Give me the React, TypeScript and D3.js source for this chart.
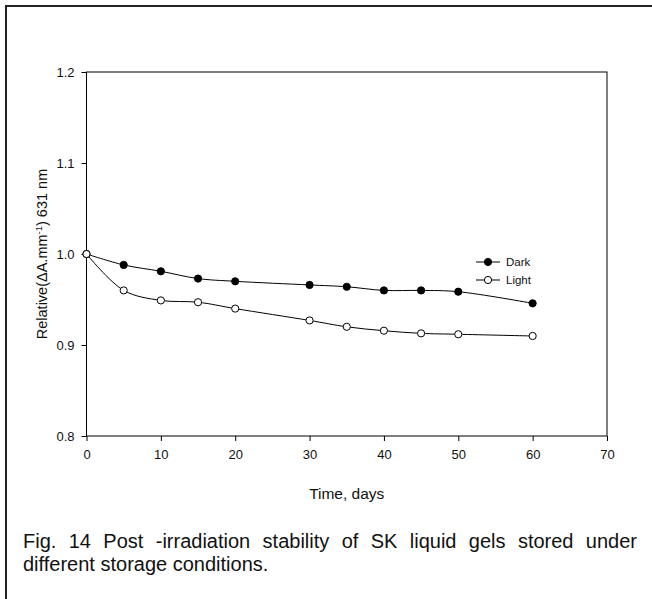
import React, { useRef, useEffect } from "react";
import * as d3 from "d3";

const days = [0, 5, 10, 15, 20, 30, 35, 40, 45, 50, 60];
const darkValues = [1.0, 0.988, 0.981, 0.973, 0.97, 0.966, 0.964, 0.96, 0.96, 0.9586, 0.9458];
const lightValues = [1.0, 0.96, 0.949, 0.947, 0.94, 0.927, 0.92, 0.9157, 0.9128, 0.9118, 0.9099];
const xTicks = [0, 10, 20, 30, 40, 50, 60, 70];
const yTicks = [0.8, 0.9, 1.0, 1.1, 1.2];
const seriesNames = ["Dark", "Light"];
const captionLines = [
  "Fig. 14 Post -irradiation stability of SK liquid gels stored under",
  "different storage conditions.",
];

const FONT = "'Liberation Sans', Arial, sans-serif";

const App: React.FC = () => {
  const svgRef = useRef<SVGSVGElement | null>(null);

  useEffect(() => {
    const width = 652;
    const height = 599;
    const left = 86.5, right = 607, top = 72, bottom = 436;

    const svg = d3.select(svgRef.current);
    svg.selectAll("*").remove();

    // outer frame (only top + left visible in the page)
    svg.append("rect")
      .attr("x", 6).attr("y", 6)
      .attr("width", width + 20).attr("height", height + 20)
      .attr("fill", "none").attr("stroke", "#222").attr("stroke-width", 2);

    const x = d3.scaleLinear().domain([0, 70]).range([left, right]);
    const y = d3.scaleLinear().domain([0.8, 1.2]).range([bottom, top]);

    // plot box
    svg.append("rect")
      .attr("x", left).attr("y", top)
      .attr("width", right - left).attr("height", bottom - top)
      .attr("fill", "none").attr("stroke", "#000").attr("stroke-width", 1);

    const xAxis = svg.append("g")
      .attr("transform", `translate(0,${bottom})`)
      .call(d3.axisBottom(x).tickValues(xTicks).tickSize(5).tickPadding(9).tickFormat(d3.format("d")));
    const yAxis = svg.append("g")
      .attr("transform", `translate(${left},0)`)
      .call(d3.axisLeft(y).tickValues(yTicks).tickSize(5).tickPadding(7).tickFormat(d3.format(".1f")));

    [xAxis, yAxis].forEach((a) => {
      a.select(".domain").remove();
      a.selectAll("line").attr("stroke", "#000");
      a.selectAll("text").attr("fill", "#111").style("font-family", FONT).style("font-size", "13px");
    });

    // axis titles
    svg.append("text")
      .attr("x", (left + right) / 2).attr("y", 499)
      .attr("text-anchor", "middle")
      .style("font-family", FONT).style("font-size", "15.5px")
      .attr("fill", "#111")
      .text("Time, days");

    const yt = svg.append("text")
      .attr("transform", `translate(47,${(top + bottom) / 2}) rotate(-90)`)
      .attr("text-anchor", "middle")
      .style("font-family", FONT).style("font-size", "14.5px")
      .attr("fill", "#111");
    yt.append("tspan").text("Relative(\u0394A.mm");
    yt.append("tspan").attr("dy", -5).style("font-size", "9.5px").text("-1");
    yt.append("tspan").attr("dy", 5).text(") 631 nm");

    // lines + markers
    const line = d3.line<number>()
      .x((_, i) => x(days[i]))
      .y((d) => y(d))
      .curve(d3.curveCatmullRom.alpha(0.5));

    const series = [
      { name: seriesNames[0], values: darkValues, fill: "#000" },
      { name: seriesNames[1], values: lightValues, fill: "#fff" },
    ];

    series.forEach((s) => {
      svg.append("path")
        .attr("d", line(s.values) as string)
        .attr("fill", "none").attr("stroke", "#000").attr("stroke-width", 1);
    });
    series.forEach((s) => {
      svg.append("g").selectAll("circle")
        .data(s.values)
        .join("circle")
        .attr("cx", (_, i) => x(days[i]))
        .attr("cy", (d) => y(d))
        .attr("r", 3.6)
        .attr("fill", s.fill)
        .attr("stroke", "#000").attr("stroke-width", 1);
    });

    // legend
    const legend = svg.append("g").attr("transform", "translate(476,262)");
    series.forEach((s, i) => {
      const row = legend.append("g").attr("transform", `translate(0,${i * 18})`);
      row.append("line").attr("x1", 0).attr("x2", 24).attr("y1", 0).attr("y2", 0)
        .attr("stroke", "#000").attr("stroke-width", 1);
      row.append("circle").attr("cx", 12).attr("cy", 0).attr("r", 3.6)
        .attr("fill", s.fill).attr("stroke", "#000");
      row.append("text").attr("x", 30).attr("y", 4)
        .style("font-family", FONT).style("font-size", "11.5px")
        .attr("fill", "#111")
        .text(s.name);
    });

    // caption (first line justified)
    const capX = 23, capRight = 637;
    captionLines.forEach((ln, i) => {
      const t = svg.append("text")
        .attr("x", capX).attr("y", 548 + i * 23)
        .style("font-family", FONT).style("font-size", "20px")
        .attr("fill", "#111")
        .text(ln);
      if (i === 0) {
        const node = t.node() as SVGTextElement;
        const w = node.getComputedTextLength();
        const spaces = ln.split(" ").length - 1;
        t.style("word-spacing", `${(capRight - capX - w) / spaces}px`);
      }
    });
  }, []);

  return (
    <div style={{ position: "absolute", left: 0, top: 0 }}>
      <svg ref={svgRef} width={652} height={599} style={{ display: "block", background: "#fff" }} />
    </div>
  );
};

export default App;
